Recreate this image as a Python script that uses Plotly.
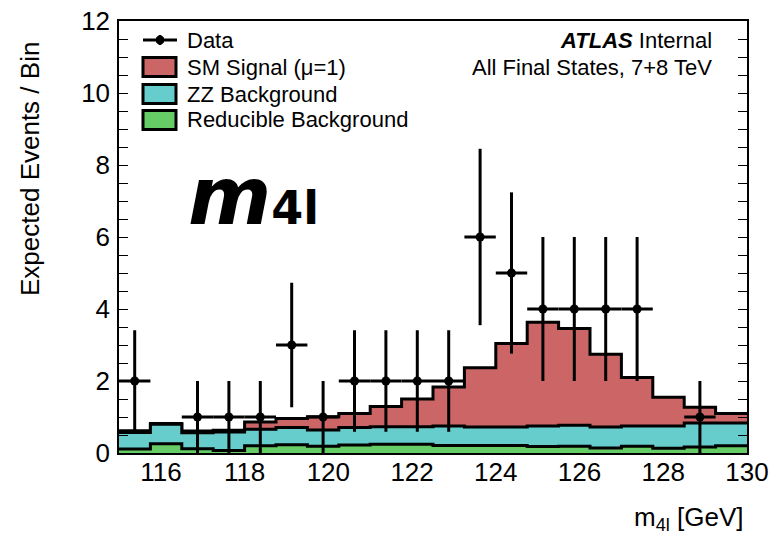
import numpy as np
import plotly.graph_objects as go

# ---- binning and contents -------------------------------------------------
bin_edges = [115.0, 115.75, 116.5, 117.25, 118.0, 118.75, 119.5, 120.25, 121.0,
             121.75, 122.5, 123.25, 124.0, 124.75, 125.5, 126.25, 127.0, 127.75,
             128.5, 129.25, 130.0]

reducible_bkg = [0.11, 0.26, 0.12, 0.07, 0.20, 0.23, 0.19, 0.22, 0.24, 0.24,
                 0.21, 0.21, 0.21, 0.18, 0.19, 0.14, 0.19, 0.13, 0.17, 0.20]
zz_bkg = [0.46, 0.54, 0.44, 0.51, 0.46, 0.48, 0.45, 0.49, 0.49, 0.49,
          0.54, 0.51, 0.51, 0.57, 0.58, 0.58, 0.56, 0.62, 0.66, 0.63]
sm_signal = [0.05, 0.02, 0.05, 0.05, 0.20, 0.25, 0.37, 0.39, 0.56, 0.77,
             1.08, 1.65, 2.32, 2.88, 2.69, 2.02, 1.35, 0.80, 0.44, 0.27]

data_counts = [2, 0, 1, 1, 1, 3, 1, 2, 2, 2, 2, 6, 5, 4, 4, 4, 4, 0, 1, 0]
data_errors = [1.41, 0.0, 1.0, 1.0, 1.0, 1.73, 1.0, 1.41, 1.41, 1.41,
               1.41, 2.45, 2.24, 2.0, 2.0, 2.0, 2.0, 0.0, 1.0, 0.0]

x_tick_vals = [116, 118, 120, 122, 124, 126, 128, 130]
y_tick_vals = [0, 2, 4, 6, 8, 10, 12]

# ---- colours ---------------------------------------------------------------
COL_SIG = "#cc6666"
COL_ZZ = "#66cccc"
COL_RED = "#66cc66"

edges = np.array(bin_edges)
centers = 0.5 * (edges[:-1] + edges[1:])
half_width = 0.5 * (edges[1:] - edges[:-1])

level_red = np.array(reducible_bkg)
level_zz = level_red + np.array(zz_bkg)
level_tot = level_zz + np.array(sm_signal)

fig = go.Figure()


def step_trace(levels, color):
    y = list(levels) + [levels[-1]]
    return go.Scatter(x=edges, y=y, mode="lines", line=dict(shape="hv", color="black", width=3),
                      fill="tozeroy", fillcolor=color, hoverinfo="skip")


# stack drawn from the top component down so each lower layer overlays
fig.add_trace(step_trace(level_tot, COL_SIG))
fig.add_trace(step_trace(level_zz, COL_ZZ))
fig.add_trace(step_trace(level_red, COL_RED))

# data points (empty bins are not drawn)
counts = np.array(data_counts)
mask = counts > 0
fig.add_trace(go.Scatter(
    x=centers[mask], y=counts[mask], mode="markers",
    marker=dict(color="black", size=9),
    error_y=dict(type="data", array=np.array(data_errors)[mask], color="black", thickness=3, width=0),
    error_x=dict(type="data", array=half_width[mask], color="black", thickness=3, width=0),
    hoverinfo="skip"))

# ---- frame / axes -----------------------------------------------------------
L, R, T, B = 119, 28, 21, 81
W, H = 775, 534
pw, ph = W - L - R, H - T - B


def px(xpix):
    return (xpix - L) / pw


def py(ypix):
    return (H - B - ypix) / ph


FONT = "Liberation Sans, Arial, Helvetica, sans-serif"

fig.update_layout(
    width=W, height=H, margin=dict(l=L, r=R, t=T, b=B, autoexpand=False),
    plot_bgcolor="white", paper_bgcolor="white", showlegend=False,
    font=dict(family=FONT, size=26, color="black"),
    xaxis=dict(range=[115, 130], tickvals=x_tick_vals, ticks="", showgrid=False, zeroline=False,
               showline=True, linecolor="black", linewidth=1.5, mirror=True, automargin=False,
               tickfont=dict(size=26), ticklabelstandoff=-5),
    yaxis=dict(range=[0, 12], tickvals=y_tick_vals, ticks="inside", ticklen=9, tickwidth=1.3,
               tickcolor="black", showgrid=False, zeroline=False, automargin=False,
               showline=True, linecolor="black", linewidth=1.5, mirror="ticks",
               minor=dict(dtick=0.5, ticks="inside", ticklen=9, tickwidth=1.3, tickcolor="black",
                          showgrid=False),
               tickfont=dict(size=26), ticklabelstandoff=2),
)

ann = []
shapes = []

# axis titles
ann.append(dict(x=px(30), y=py(169), xref="paper", yref="paper", text="Expected Events / Bin",
                textangle=-90, showarrow=False, font=dict(size=26), xanchor="center", yanchor="middle"))
ann.append(dict(x=px(746), y=py(518), xref="paper", yref="paper", text="m<sub>4l</sub> [GeV]",
                showarrow=False, font=dict(size=26), xanchor="right", yanchor="middle"))

# experiment label
ann.append(dict(x=px(714), y=py(41), xref="paper", yref="paper",
                text="<b><i>ATLAS</i></b> Internal", showarrow=False, font=dict(size=22),
                xanchor="right", yanchor="middle"))
ann.append(dict(x=px(714), y=py(67), xref="paper", yref="paper",
                text="All Final States, 7+8 TeV", showarrow=False, font=dict(size=22),
                xanchor="right", yanchor="middle"))

# channel tag
ann.append(dict(x=px(186), y=py(196), xref="paper", yref="paper",
                text="<b><i>m</i></b><b><span style='font-size:46px'>4l</span></b>", showarrow=False,
                font=dict(size=80, family="DejaVu Sans"), xanchor="left", yanchor="middle"))

# legend
leg_items = [("SM Signal (\u03bc=1)", COL_SIG, 67), ("ZZ Background", COL_ZZ, 94),
             ("Reducible Background", COL_RED, 120)]
shapes.append(dict(type="line", xref="paper", yref="paper", x0=px(143), x1=px(177), y0=py(40), y1=py(40),
                   line=dict(color="black", width=3)))
shapes.append(dict(type="line", xref="paper", yref="paper", x0=px(160), x1=px(160), y0=py(35), y1=py(45),
                   line=dict(color="black", width=3)))
shapes.append(dict(type="circle", xref="paper", yref="paper", x0=px(156), x1=px(164), y0=py(36), y1=py(44),
                   fillcolor="black", line=dict(color="black", width=1)))
ann.append(dict(x=px(185), y=py(40), xref="paper", yref="paper", text="Data", showarrow=False,
                font=dict(size=22), xanchor="left", yanchor="middle"))
for label, col, yc in leg_items:
    shapes.append(dict(type="rect", xref="paper", yref="paper", x0=px(143), x1=px(176),
                       y0=py(yc - 9.5), y1=py(yc + 9.5), fillcolor=col, line=dict(color="black", width=3)))
    ann.append(dict(x=px(185), y=py(yc), xref="paper", yref="paper", text=label, showarrow=False,
                    font=dict(size=22), xanchor="left", yanchor="middle"))

fig.update_layout(annotations=ann, shapes=shapes)
fig.write_html("out.html")
